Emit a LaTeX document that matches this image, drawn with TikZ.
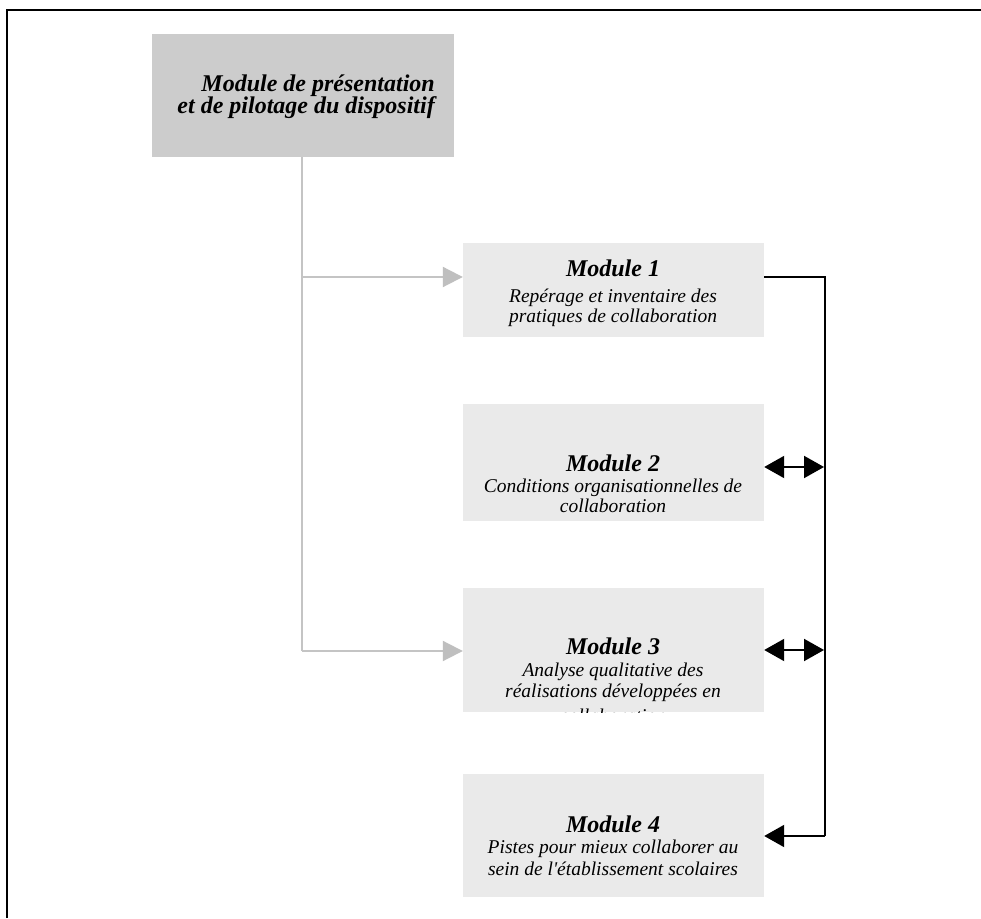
\documentclass[tikz,border=0pt]{standalone}
\usepackage{fontspec}
\setmainfont{Liberation Serif}
\usetikzlibrary{arrows.meta}
\definecolor{topfill}{HTML}{CCCCCC}
\definecolor{modfill}{HTML}{EAEAEA}
\definecolor{greyline}{HTML}{C4C4C4}
\definecolor{greytip}{HTML}{BFBFBF}
\begin{document}
\begin{tikzpicture}[x=1pt,y=1pt,
  topbox/.style={fill=topfill,draw=none,inner sep=0pt},
  modbox/.style={fill=modfill,draw=none,inner sep=0pt},
  titletext/.style={inner sep=0pt,anchor=base,font=\fontsize{24}{24}\selectfont\bfseries\itshape},
  toptext/.style={inner sep=0pt,anchor=base east,font=\fontsize{24}{24}\selectfont\bfseries\itshape},
  subtext/.style={inner sep=0pt,anchor=base,font=\fontsize{19.5}{20}\selectfont\itshape},
  greyarrow/.style={draw=greyline,line width=2pt,-{Triangle[length=20pt,width=20pt,color=greytip]}},
  greyconn/.style={draw=greyline,line width=2pt},
  blackconn/.style={draw=black,line width=2pt},
  blackarrow/.style={draw=black,line width=2pt,-{Triangle[length=20pt,width=22pt]}},
  blackdouble/.style={draw=black,line width=2pt,{Triangle[length=20pt,width=22pt]}-{Triangle[length=20pt,width=22pt]}},
  frameline/.style={draw=black,line width=2pt}
]
\useasboundingbox (0,0) rectangle (981,918);
\fill[white] (0,0) rectangle (981,918);

% frame
\coordinate (fr1) at (7,0);
\coordinate (fr2) at (7,908);
\coordinate (fr3) at (981,908);
\draw[frameline] (fr1) -- (fr2) -- (fr3);

% top box
\node[topbox,minimum width=302pt,minimum height=123pt] (top) at (303,822.5) {};
\node[toptext] (topa) at (435,826) {Module de présentation};
\node[toptext] (topb) at (435,804) {et de pilotage du dispositif};

% module boxes
\node[modbox,minimum width=301pt,minimum height=94pt] (m1) at (613.5,628) {};
\node[modbox,minimum width=301pt,minimum height=117pt] (m2) at (613.5,455.5) {};
\node[modbox,minimum width=301pt,minimum height=124pt] (m3) at (613.5,268) {};
\node[modbox,minimum width=301pt,minimum height=123pt] (m4) at (613.5,82.5) {};

% texts
\node[titletext] (m1t) at (613,641) {Module 1};
\node[subtext] (m1a) at (613,615) {Repérage et inventaire des};
\node[subtext] (m1b) at (613,595) {pratiques de collaboration};

\node[titletext] (m2t) at (613,446) {Module 2};
\node[subtext] (m2a) at (613,425) {Conditions organisationnelles de};
\node[subtext] (m2b) at (613,405) {collaboration};

\begin{scope}
\clip (m3.south west) rectangle (m3.north east);
\node[titletext] (m3t) at (613,263) {Module 3};
\node[subtext] (m3a) at (613,241) {Analyse qualitative des};
\node[subtext] (m3b) at (613,221) {réalisations développées en};
\node[subtext] (m3c) at (613,196) {collaboration};
\end{scope}

\node[titletext] (m4t) at (613,86) {Module 4};
\node[subtext] (m4a) at (613,65) {Pistes pour mieux collaborer au};
\node[subtext] (m4b) at (613,43) {sein de l\textquotesingle établissement scolaires};

% grey connectors
\coordinate (g1) at (302,641);
\coordinate (g3) at (302,267);
\draw[greyconn] (top.south -| g1) -- (g3);
\draw[greyarrow] (g1) -- (g1 -| m1.west);
\draw[greyarrow] (g3) -- (g3 -| m3.west);

% black connectors
\coordinate (b1) at (825,641);
\coordinate (b2) at (825,451);
\coordinate (b3) at (825,268);
\coordinate (b4) at (825,82);
\draw[blackconn] (b1 -| m1.east) -- (b1) -- (b4);
\draw[blackdouble] (b2 -| m2.east) -- ([xshift=-1pt]b2);
\draw[blackdouble] (b3 -| m3.east) -- ([xshift=-1pt]b3);
\draw[blackarrow] (b4) -- (b4 -| m4.east);
\end{tikzpicture}
\end{document}
